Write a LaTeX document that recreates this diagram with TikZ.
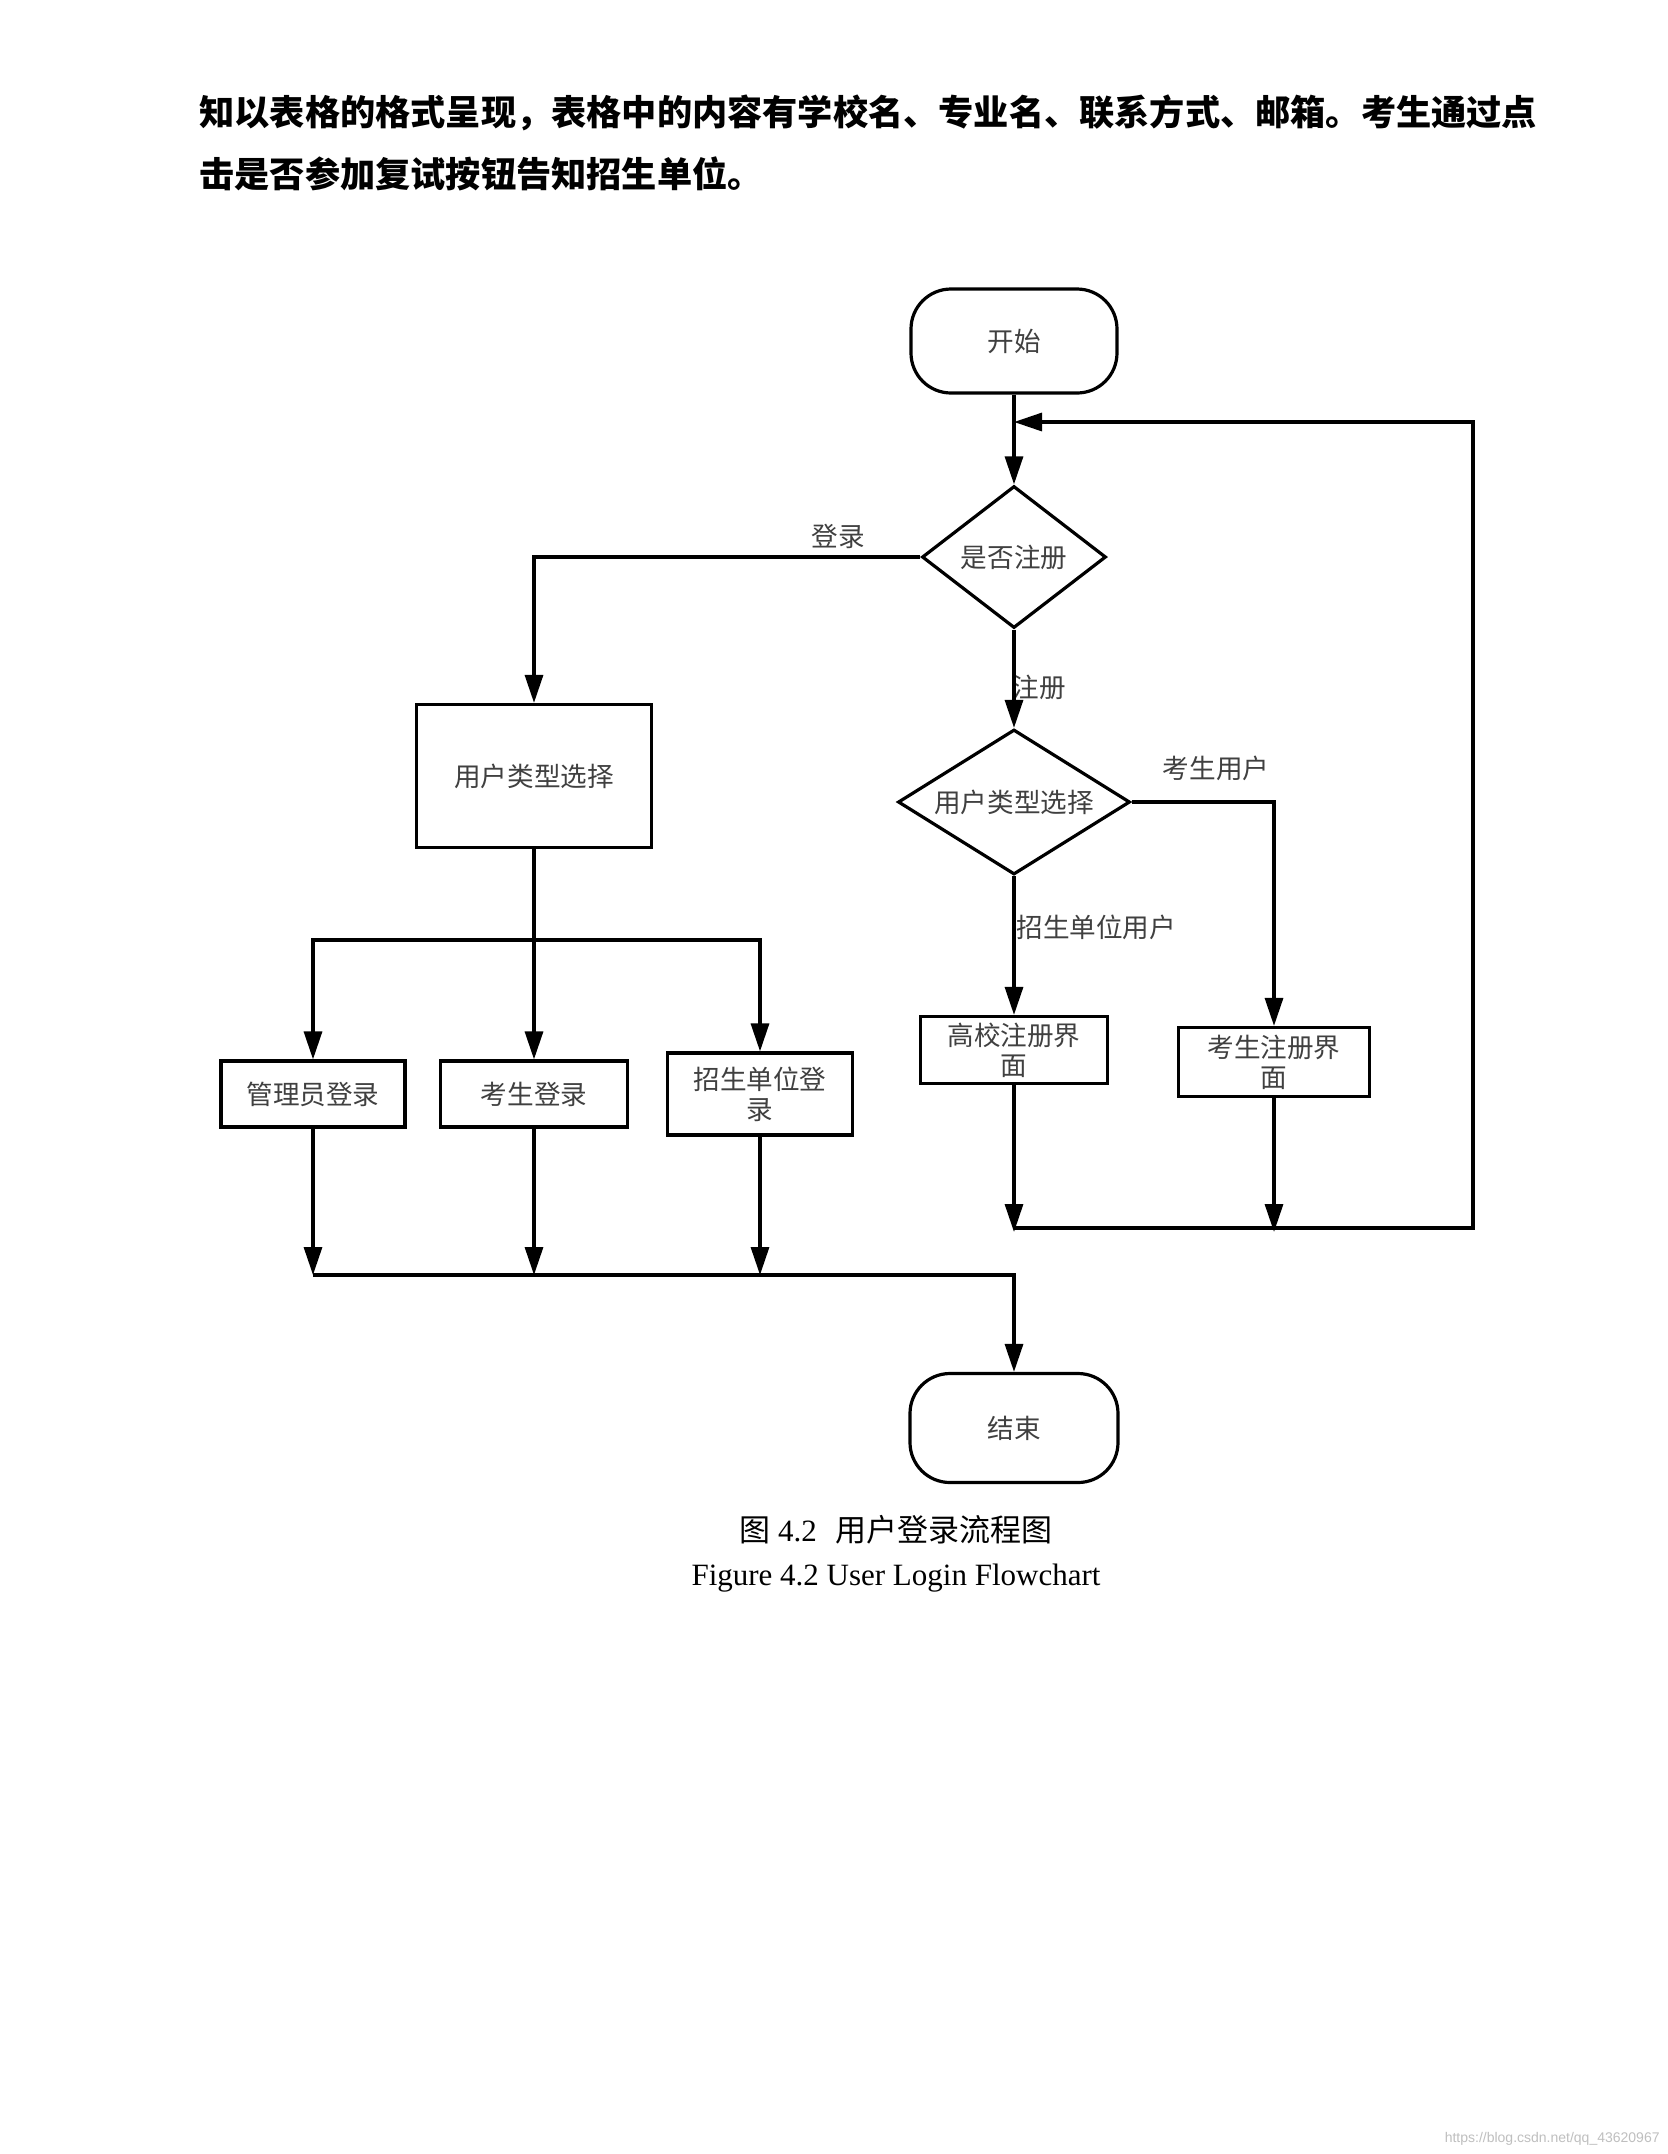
\documentclass[tikz,border=0pt]{standalone}
\usepackage{fontspec}
\setmainfont{Liberation Serif}
\newfontfamily\cjk{Noto Sans CJK SC}
\newfontfamily\wmfont{Liberation Sans}
\usetikzlibrary{shapes.geometric,arrows.meta}
\begin{document}
\begin{tikzpicture}[x=0.5pt,y=-0.5pt,
  every node/.style={inner sep=0pt},
  dtext/.style={font=\cjk\fontsize{13.3pt}{15pt}\selectfont,text=black!75},
  box/.style={draw,line width=1.6pt,rectangle,dtext,align=center},
  term/.style={box,rounded corners=20pt},
  dec/.style={draw,line width=1.6pt,diamond,dtext},
  arr/.style={line width=1.6pt,-{Triangle[length=14pt,width=9pt]}},
  conn/.style={line width=1.6pt},
  lbl/.style={dtext}]
\useasboundingbox (0,0) rectangle (1668,2154);
\fill[white] (0,0) rectangle (1668,2154);

% paragraph
\node[anchor=west,font=\cjk\bfseries\fontsize{17.6pt}{21pt}\selectfont] (p1) at (199,113) {知以表格的格式呈现，表格中的内容有学校名、专业名、联系方式、邮箱。考生通过点};
\node[anchor=west,font=\cjk\bfseries\fontsize{17.6pt}{21pt}\selectfont] (p2) at (199,174) {击是否参加复试按钮告知招生单位。};

% nodes
\node[term,minimum width=103pt,minimum height=52pt] (start) at (1014,341) {开始};
\node[dec,minimum width=92pt,minimum height=71pt] (q1) at (1014,557) {\makebox[0pt]{是否注册}};
\node[box,minimum width=117.5pt,minimum height=71.5pt] (sel) at (534,776) {用户类型选择};
\node[dec,minimum width=116pt,minimum height=72.5pt] (q2) at (1014,802) {\makebox[0pt]{用户类型选择}};
\node[box,minimum width=92pt,minimum height=33pt] (adm) at (313,1094) {管理员登录};
\node[box,minimum width=93.5pt,minimum height=33pt] (stu) at (534,1094) {考生登录};
\node[box,minimum width=92.5pt,minimum height=41pt] (zs) at (760,1094) {招生单位登\\录};
\node[box,minimum width=93.5pt,minimum height=33.5pt] (gx) at (1014,1050) {高校注册界\\面};
\node[box,minimum width=95.5pt,minimum height=34.5pt] (ks) at (1274,1062) {考生注册界\\面};
\node[term,minimum width=104pt,minimum height=54.5pt] (end) at (1014,1428) {结束};

% labels
\node[lbl] (l1) at (838,536) {登录};
\node[lbl,anchor=west] (l2) at (1012,687) {注册};
\node[lbl] (l3) at (1216,768) {考生用户};
\node[lbl,anchor=west] (l4) at (1016,927) {招生单位用户};

% coordinates
\coordinate (j1) at (1014,422);
\coordinate (lpT) at (1473,422);
\coordinate (lpB) at (1473,1228);
\coordinate (rb) at (1014,1228);
\coordinate (gB) at (1014,1232);
\coordinate (kB) at (1274,1232);
\coordinate (dC) at (534,940);
\coordinate (mL) at (313,1275);
\coordinate (mC) at (534,1275);
\coordinate (mR) at (760,1275);
\coordinate (mE) at (1014,1275);

% connectors
\draw[arr] (start) -- (q1);
\draw[arr] (rb) -- (lpB) -- (lpT) -- (j1);
\draw[arr] (q1.west) -| (sel.north);
\draw[arr] (q1) -- (q2);
\draw[arr] (q2.east) -| (ks.north);
\draw[arr] (q2) -- (gx);
\draw[arr] (gx) -- (gB);
\draw[arr] (ks) -- (kB);
\draw[arr] (sel) -- (stu);
\draw[arr] (dC) -| (adm.north);
\draw[arr] (dC) -| (zs.north);
\draw[arr] (adm) -- (mL);
\draw[arr] (stu) -- (mC);
\draw[arr] (zs) -- (mR);
\draw[arr] (mL) -- (mE) -- (end);

% caption
\node[font=\fontsize{15.5pt}{18pt}\selectfont] (cap1) at (896,1530) {{\cjk 图} 4.2\hspace{0.6em}{\cjk 用户登录流程图}};
\node[font=\fontsize{15.5pt}{18pt}\selectfont] (cap2) at (896,1578) {Figure 4.2 User Login Flowchart};

% watermark
\node[anchor=east,font=\wmfont\fontsize{7pt}{8pt}\selectfont,text=black!25] (wm) at (1660,2139) {https://blog.csdn.net/qq\_43620967};
\end{tikzpicture}
\end{document}
